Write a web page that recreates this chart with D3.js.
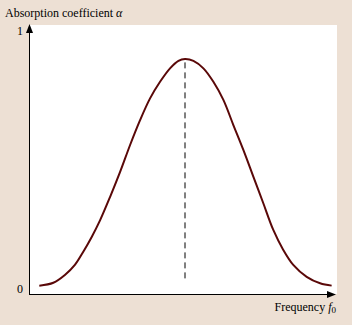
<!DOCTYPE html>
<html>
<head>
<meta charset="utf-8">
<script src="https://cdn.jsdelivr.net/npm/d3@7"></script>
<style>
  body { margin: 0; background: #ede0d4; }
  text { font-family: "Liberation Serif", "DejaVu Serif", serif; fill: #000; }
</style>
</head>
<body>
<script>
var width = 352, height = 325;

// absorption curve (frequency in arbitrary units, f0 = 5)
var freq = [0.33, 0.78, 1.15, 1.47, 1.74, 2.01, 2.28, 2.60, 2.92, 3.24, 3.56, 3.88, 4.20, 4.52, 4.79, 5.00,
            5.27, 5.59, 5.91, 6.23, 6.55, 6.87, 7.19, 7.51, 7.83, 8.15, 8.47, 8.90, 9.33, 9.70];
var alpha = [0.013, 0.024, 0.054, 0.093, 0.144, 0.201, 0.266, 0.356, 0.452, 0.556, 0.652, 0.736, 0.800, 0.852, 0.881, 0.888,
             0.881, 0.852, 0.800, 0.730, 0.633, 0.537, 0.434, 0.331, 0.228, 0.151, 0.093, 0.047, 0.022, 0.013];
var f0 = 5;
var dashTop = 0.875, dashBottom = 0.035;
var yTicks = [0, 1];

var x = d3.scaleLinear().domain([0, 10]).range([29, 341]);
var y = d3.scaleLinear().domain([0, 1]).range([289, 30]);

var svg = d3.select("body").append("svg")
    .attr("width", width)
    .attr("height", height);

// white plot panel
svg.append("rect")
    .attr("x", 29).attr("y", 25)
    .attr("width", 308).attr("height", 269)
    .attr("fill", "#fff");

// axes
svg.append("line")
    .attr("x1", 29.5).attr("x2", 29.5)
    .attr("y1", 294.5).attr("y2", 32)
    .attr("stroke", "#000");
svg.append("path")
    .attr("d", "M29.5,24 L26,33 L33,33 Z")
    .attr("fill", "#000");
svg.append("line")
    .attr("x1", 29).attr("x2", 328)
    .attr("y1", 294.5).attr("y2", 294.5)
    .attr("stroke", "#000");
svg.append("path")
    .attr("d", "M336,294.5 L327,291 L327,298 Z")
    .attr("fill", "#000");

// tick labels
svg.selectAll(".ytick")
    .data(yTicks)
    .enter().append("text")
    .attr("class", "ytick")
    .attr("x", 23)
    .attr("y", (d) => d == 1 ? 35 : 293)
    .attr("text-anchor", "end")
    .style("font-size", "12px")
    .text((d) => d);

// axis titles
var yt = svg.append("text")
    .attr("x", 5).attr("y", 17)
    .style("font-size", "12px");
yt.append("tspan").text("Absorption coefficient ");
yt.append("tspan").style("font-style", "italic").text("α");

var xt = svg.append("text")
    .attr("x", 336).attr("y", 311)
    .attr("text-anchor", "end")
    .style("font-size", "12px");
xt.append("tspan").text("Frequency ");
xt.append("tspan").style("font-style", "italic").text("f");
xt.append("tspan").attr("dy", 2).style("font-size", "9px").text("0");

// dashed line at f0
svg.append("line")
    .attr("x1", x(f0)).attr("x2", x(f0))
    .attr("y1", y(dashTop)).attr("y2", y(dashBottom))
    .attr("stroke", "#000")
    .attr("stroke-dasharray", "6,4");

// curve
var pts = freq.map((f, i) => [f, alpha[i]]);
var line = d3.line()
    .x((d) => x(d[0]))
    .y((d) => y(d[1]))
    .curve(d3.curveCatmullRom);

svg.append("path")
    .attr("d", line(pts))
    .attr("fill", "none")
    .attr("stroke", "#5a0808")
    .attr("stroke-width", 2);
</script>
</body>
</html>
